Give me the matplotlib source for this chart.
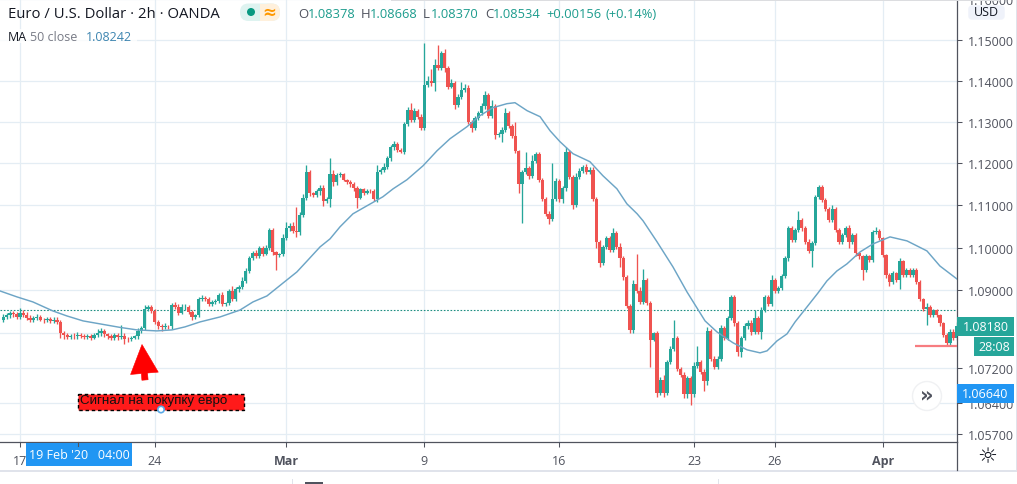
import matplotlib
matplotlib.use("Agg")
import matplotlib.pyplot as plt
from matplotlib.patches import Rectangle, Circle, FancyBboxPatch
import numpy as np

W, H = 1017, 485
FONT = "Open Sans"
plt.rcParams["font.family"] = [FONT, "DejaVu Sans"]

# Candles: closes and wicks. Prices in 1/10000.
FIRST_OPEN = 10832
FIRST_BAR = -5
BARS_PER_DAY = 8
closes = [
    10838,10842,10846,10844,10839,10847,10842,10836,10832,10835,
    10838,10832,10830,10833,10829,10832,10826,10802,10796,10792,
    10795,10793,10797,10795,10791,10794,10790,10796,10802,10806,
    10798,10794,10790,10797,10792,10795,10788,10786,10790,10793,
    10806,10812,10856,10860,10852,10826,10818,10815,10817,10816,
    10866,10862,10848,10860,10862,10850,10838,10842,10880,10882,
    10880,10868,10872,10875,10889,10868,10870,10898,10880,10902,
    10908,10922,10945,10975,10988,10980,11000,10986,11000,11042,
    10990,10982,10984,11022,11045,11052,11040,11036,11078,11118,
    11180,11128,11125,11135,11140,11110,11115,11175,11156,11172,
    11174,11160,11155,11150,11140,11118,11138,11130,11135,11133,
    11115,11180,11183,11192,11212,11239,11247,11231,11228,11295,
    11328,11305,11325,11312,11285,11390,11398,11395,11438,11430,
    11468,11430,11385,11395,11340,11360,11378,11382,11300,11285,
    11310,11322,11337,11364,11315,11338,11268,11270,11280,11322,
    11290,11265,11230,11150,11180,11188,11170,11205,11222,11160,
    11115,11080,11068,11115,11158,11115,11140,11228,11168,11100,
    11168,11182,11190,11180,11185,11115,11012,10963,11002,11022,
    10995,11034,11002,10975,10930,10863,10807,10915,10899,10872,
    10924,10870,10785,10800,10663,10692,10663,10734,10765,10789,
    10718,10704,10660,10697,10660,10726,10734,10712,10690,10805,
    10742,10722,10742,10812,10790,10835,10885,10823,10757,10789,
    10816,10823,10804,10835,10804,10854,10885,10869,10923,10899,
    10905,10934,10975,11046,11018,11042,11065,11045,11014,10991,
    11010,11119,11143,11112,11092,11065,11092,11041,11014,11030,
    11045,11014,11030,10987,10979,10948,10979,10971,11037,11040,
    11022,10983,10936,10920,10940,10924,10968,10936,10948,10936,
    10948,10920,10880,10857,10862,10842,10853,10842,10823,10797,
    10778,10804,10789,10818,
]
wick_up = [
    6,5,6,5,6,12,6,8,6,6,
    6,5,4,6,4,5,5,5,3,5,
    4,5,6,4,4,4,5,4,8,6,
    5,4,5,5,3,25,5,4,3,3,
    6,5,10,6,6,4,5,3,6,3,
    4,6,5,7,5,4,4,3,5,6,
    4,5,5,5,5,6,3,5,12,5,
    5,8,6,5,5,6,3,3,5,5,
    5,3,4,10,15,5,8,55,6,8,
    15,5,4,3,8,8,4,38,10,5,
    5,3,3,4,6,5,4,4,4,4,
    5,15,5,8,6,6,6,5,5,5,
    8,18,8,5,6,101,12,30,14,48,
    5,8,5,8,5,8,18,10,6,4,
    5,5,8,10,5,15,4,5,8,12,
    5,5,35,3,5,40,5,15,5,6,
    4,4,6,85,6,5,5,10,5,5,
    8,6,5,8,5,5,5,5,5,5,
    5,12,5,8,5,5,5,8,70,8,
    25,5,5,3,5,8,12,5,6,41,
    5,5,8,5,5,8,36,5,5,10,
    5,5,6,8,5,5,5,5,5,5,
    8,8,8,18,5,8,5,5,12,5,
    5,5,5,5,5,5,22,5,5,5,
    5,5,5,5,5,5,8,4,4,5,
    5,8,5,5,3,3,5,3,5,8,
    3,4,3,4,5,3,7,3,3,3,
    3,3,5,3,8,4,3,3,3,3,
    3,5,5,8,
]
wick_dn = [
    5,5,6,5,5,6,5,6,5,5,
    5,4,5,4,5,5,4,12,8,6,
    5,5,5,6,5,4,5,4,5,8,
    6,6,5,5,7,6,12,5,4,4,
    5,6,4,5,5,5,8,10,6,5,
    5,5,5,4,5,6,8,5,4,4,
    5,5,5,5,5,5,5,5,6,5,
    5,4,5,5,5,5,5,5,4,5,
    8,35,5,5,5,5,5,10,6,5,
    5,5,5,5,10,12,4,20,10,8,
    5,3,4,6,6,24,4,5,4,4,
    6,8,6,5,5,6,6,5,4,6,
    5,5,5,5,5,5,5,8,20,5,
    5,8,5,4,8,4,5,5,6,10,
    5,5,5,5,5,5,9,5,19,5,
    5,5,5,20,92,5,8,5,5,5,
    5,5,12,5,5,8,10,5,5,10,
    5,5,5,5,5,5,12,8,5,5,
    5,5,5,20,5,5,5,5,5,5,
    5,5,63,3,8,5,8,5,5,5,
    5,5,8,8,25,5,5,5,23,8,
    5,5,5,5,5,5,5,5,10,12,
    5,5,8,5,5,18,5,5,5,5,
    5,5,5,6,5,5,5,5,5,3,
    36,5,5,5,5,5,5,5,5,5,
    5,16,5,8,5,24,5,5,5,5,
    5,5,8,10,6,5,22,5,5,5,
    5,5,5,5,37,5,5,5,5,5,
    5,6,5,5,
]

# 50-period moving average, read at trading-day positions (0 = Mon 17 Feb)
ma_days = [-0.742,-0.11,0.48,1.22,1.74,2.34,2.97,3.71,4.34,5.08,5.64,6.12,6.68,7.42,8.16,
           8.64,9.16,9.76,10.27,10.65,11.13,11.5,11.87,12.35,12.87,13.46,13.84,14.35,14.95,
           15.47,15.95,16.58,17.06,17.54,18.06,18.36,18.81,19.29,19.66,20.03,20.51,21.14,
           21.62,22.14,22.51,22.89,23.11,23.63,24.22,24.74,25.41,25.85,26.45,26.97,27.45,
           27.71,28.08,28.45,28.75,29.19,29.6,29.93,30.3,30.67,31.16,31.64,32.27,32.9,33.64,
           34.12,34.75]
ma_prices = [1.08984,1.08845,1.08728,1.08519,1.08403,1.08288,1.08219,1.08138,1.0808,1.08057,
             1.0808,1.0815,1.08265,1.0838,1.0854,1.08728,1.08868,1.09171,1.09428,1.09686,
             1.10016,1.10205,1.10489,1.10797,1.10987,1.11201,1.11391,1.11606,1.11941,1.12302,
             1.1259,1.1288,1.13146,1.1334,1.13437,1.13461,1.13267,1.13122,1.12783,1.12518,
             1.1223,1.12038,1.11703,1.11391,1.11034,1.10797,1.10631,1.10134,1.09545,1.08961,
             1.08288,1.08034,1.07781,1.0762,1.07551,1.07597,1.07827,1.07988,1.08265,1.08612,
             1.08938,1.09218,1.09451,1.09615,1.09897,1.10086,1.10251,1.10157,1.09921,1.09568,
             1.09265]

price_ticks = [1.16,1.15,1.14,1.13,1.12,1.11,1.10,1.09,1.08,1.072,1.064,1.057]
hidden_price_labels = {1.08}
day_ticks = [0,5,9.87,15,20,25,28,32]
day_labels = ["17","24","Mar","9","16","23","26","Apr"]
bold_labels = {"Mar","Apr"}
last_close = 1.08534
support_level = 1.0771
support_start_day = 33.2

UP, DOWN = "#26a69a", "#ef5350"
GRID = "#e4edf4"
AXC = "#50535e"
TXT = "#50535e"

c = np.array(closes)/1e4
o = np.concatenate([[FIRST_OPEN/1e4], c[:-1]])
top = np.maximum(o, c); bot = np.minimum(o, c)
hi = top + np.array(wick_up)/1e4
lo = bot - np.array(wick_dn)/1e4
d = (FIRST_BAR + np.arange(len(c)))/BARS_PER_DAY
col = [UP if a >= b else DOWN for a, b in zip(c, o)]

fig = plt.figure(figsize=(W/100, H/100), dpi=100, facecolor="white")
ax = fig.add_axes([0, (H-443)/H, 957/W, 443/H])
ax.set_yscale("log")
ax.set_xlim(-0.742, 34.755)
ax.set_ylim(1.0552, 1.16005)
ax.yaxis.tick_right()
ax.set_yticks(price_ticks)
ax.set_yticklabels(["" if v in hidden_price_labels else f"{v:.5f}" for v in price_ticks], fontsize=9, color=TXT)
ax.minorticks_off()
ax.yaxis.set_minor_locator(matplotlib.ticker.NullLocator())
ax.set_xticks(day_ticks)
ax.set_xticklabels(day_labels, fontsize=9, color=TXT)
for t in ax.get_xticklabels():
    if t.get_text() in bold_labels:
        t.set_fontweight("bold")
ax.tick_params(axis="both", length=3.5, width=0.75, color=AXC)
ax.tick_params(axis="x", pad=5)
ax.tick_params(axis="y", pad=4)
ax.grid(True, color=GRID, lw=0.9, zorder=0)
ax.set_axisbelow(True)
for s in ["top", "left"]:
    ax.spines[s].set_visible(False)
for s in ["right", "bottom"]:
    ax.spines[s].set_color(AXC); ax.spines[s].set_linewidth(0.9)

ax.vlines(d, lo, hi, colors=col, lw=0.95, zorder=2)
ax.bar(d, np.maximum(top-bot, 0.00008), bottom=bot, width=0.122, color=col, linewidth=0, zorder=3)
ax.plot(ma_days, ma_prices, color="#6da5c6", lw=1.05, zorder=4)
ax.axhline(last_close, color="#1f8f82", lw=0.8, ls=(0, (1.5, 1.5)), zorder=1.5)
ax.plot([support_start_day, 34.755], [support_level]*2, color="#f77c80", lw=1.6, zorder=5, solid_capstyle="butt")

# Overlay in pixel units for the labels and interface furniture
ov = fig.add_axes([0, 0, 1, 1], zorder=5, facecolor="none")
ov.set_xlim(0, W); ov.set_ylim(H, 0); ov.axis("off")

def box(x0, y0, x1, y1, color, **kw):
    ov.add_patch(Rectangle((x0, y0), x1-x0, y1-y0, facecolor=color, edgecolor="none", **kw))

def label(x, y, s, color=TXT, size=9, ha="left", **kw):
    ov.text(x, y, s, color=color, fontsize=size, ha=ha, va="center", **kw)

# top strip
box(391, 0, 1000, 1.5, "#dcdde0")
box(0, 30, 137, 44, "white", alpha=0.8)
label(8, 14, "Euro / U.S. Dollar · 2h · OANDA", color="#131722", size=10.7)
label(8, 37.5, "MA", color="#131722", size=9)
label(30, 37.5, "50 close", color="#787b86", size=9)
label(86, 37.5, "1.08242", color="#3d85b0", size=9)
# status pill
ov.add_patch(FancyBboxPatch((240, 4.5), 40, 17.5, boxstyle="round,pad=0,rounding_size=8.5", fc="#def3f0", ec="none"))
ov.add_patch(FancyBboxPatch((261, 4.5), 19, 17.5, boxstyle="round,pad=0,rounding_size=8.5", fc="#fff0dc", ec="none"))
box(260, 4.5, 268, 22, "#fff0dc")
ov.add_patch(Circle((251, 13), 4, fc="#089981", ec="none"))
label(269, 12.5, "≈", color="#ff9800", size=12, ha="center", family=["DejaVu Sans"], fontweight="bold")
# OHLC
for x, s in [(298, "O"), (361, "H"), (423, "L"), (485, "C")]:
    label(x, 14, s, color=TXT, size=9.5)
for x, s in [(307.5, "1.08378"), (370, "1.08668"), (430.5, "1.08370"), (493, "1.08534"),
             (546, "+0.00156"), (605, "(+0.14%)")]:
    label(x, 14, s, color="#1c9c8d", size=9.3)
# USD tag
ov.add_patch(FancyBboxPatch((969, 7), 35, 13, boxstyle="round,pad=0,rounding_size=3", fc="#eff2fa", ec="#eff2fa", lw=1))
label(986.5, 12, "USD", color="#131722", size=9, ha="center")
# price tags
box(957, 318, 1014, 337, "#26a69a")
label(985.5, 327.5, "1.08180", color="white", ha="center")
box(974, 338, 1014, 357, "#26a69a")
label(994, 347.5, "28:08", color="white", ha="center")
box(957, 385, 1014, 404, "#2196f3")
label(985.5, 395, "1.06640", color="white", ha="center")
# crosshair date tag
ov.plot([78, 78], [443, 447], color=AXC, lw=0.8)
box(26, 444, 132, 467, "#2196f3")
label(79, 456, "19 Feb '20   04:00", color="white", ha="center")
# scroll button
ov.add_patch(Circle((927, 397), 14.5, fc="white", ec="#f0f1f3", lw=1))
label(927, 395, "»", color=AXC, size=15, ha="center", family=["DejaVu Sans"], fontweight="bold")
# settings icon
label(987, 457.5, "☼", color="#131722", size=16, ha="center", family=["DejaVu Sans"])
# bottom frame
ov.plot([957, 957], [443, 471], color=AXC, lw=0.9)
box(0, 470.5, W, 472.5, "#e0e3eb")
box(1015.5, 0, W, 472, "#e0e3eb")
box(291.5, 480, 292.5, H, "#e0e3eb")
box(718, 480, 719, H, "#e0e3eb")
box(305, 483, 323, H, "#50535e")
# annotation: arrow and signal label
ov.annotate("", xy=(142, 345.5), xytext=(145, 381),
            arrowprops=dict(arrowstyle="simple,head_length=1.3,head_width=1.25,tail_width=0.28",
                            fc="#ff0000", ec="#ff0000", lw=0.4, shrinkA=0, shrinkB=0, mutation_scale=16))
ov.add_patch(Rectangle((78, 394.5), 166, 16, facecolor="#ff1a1a", edgecolor="black", lw=1, ls=(0, (2.5, 2))))
ov.text(80.5, 401.5, "Сигнал на покупку евро", color="#111111", fontsize=9.6, ha="left", va="center",
        family=["Liberation Sans"])
ov.add_patch(Circle((161, 410.5), 3.2, fc="white", ec="#5aa9e6", lw=1.2))

fig.savefig("out.png", dpi=100, facecolor="white")
